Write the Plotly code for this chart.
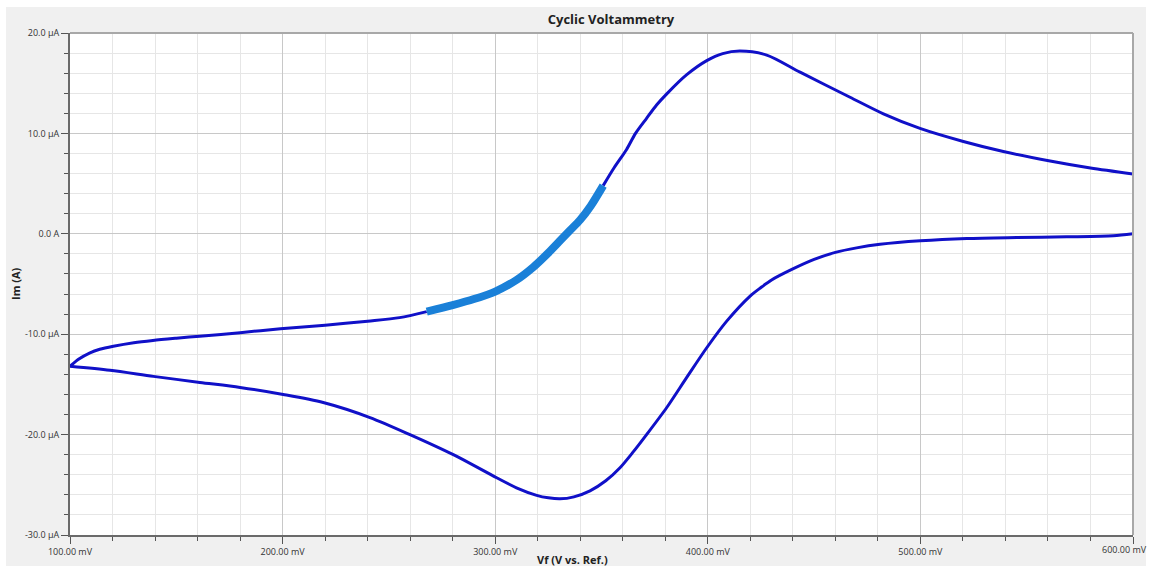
import plotly.graph_objects as go

# Forward (upper) branch: potential (mV) and current (µA)
fwd_v = [100.0, 104.0, 109.4, 114.0, 120.4, 130.0, 139.0, 150.0, 161.0, 180.0, 199.0,
         220.0, 240.0, 255.0, 267.8]
fwd_i = [-13.2, -12.5, -11.85, -11.5, -11.2, -10.85, -10.62, -10.4, -10.2, -9.85, -9.45,
         -9.1, -8.7, -8.35, -7.75]

# Highlighted segment on the forward branch
hl_v = [267.8, 280.0, 290.0, 300.0, 310.0, 318.0, 325.0, 330.0, 335.0, 340.0, 345.0, 350.8]
hl_i = [-7.75, -7.1, -6.5, -5.75, -4.6, -3.3, -1.9, -0.8, 0.3, 1.4, 2.8, 4.8]

# Rest of the forward branch
fwd2_v = [350.8, 356.0, 361.8, 366.0, 371.2, 376.0, 380.7, 390.1, 399.5, 407.0, 415.1,
          427.7, 443.4, 466.9, 482.6, 499.8, 520.2, 539.0, 561.0, 580.0, 600.0]
fwd2_i = [4.8, 6.6, 8.4, 10.0, 11.5, 12.85, 13.94, 15.85, 17.25, 17.95, 18.2,
          17.8, 16.1, 13.6, 11.95, 10.5, 9.2, 8.2, 7.25, 6.55, 5.96]

# Reverse (lower) branch
rev_v = [600.0, 590.7, 568.8, 545.3, 521.8, 500.0, 481.0, 470.0, 460.0, 450.0, 440.0, 430.0,
         425.0, 419.9, 408.9, 399.5, 390.1, 380.7, 371.2, 365.0, 358.7, 352.0, 344.6, 337.0,
         330.5, 325.0, 319.5, 310.0, 300.7, 280.3, 259.9, 241.1, 219.1, 200.3, 180.0,
         161.1, 139.2, 118.8, 100.0]
rev_i = [0.0, -0.2, -0.3, -0.37, -0.47, -0.7, -1.05, -1.4, -1.85, -2.55, -3.5, -4.6,
         -5.35, -6.2, -8.7, -11.35, -14.3, -17.3, -20.0, -21.7, -23.3, -24.6, -25.6, -26.2,
         -26.4, -26.3, -26.05, -25.3, -24.3, -22.0, -20.0, -18.3, -16.8, -16.0, -15.3,
         -14.8, -14.2, -13.6, -13.2]

x_ticks = [100, 200, 300, 400, 500, 600]
x_labels = ["100.00 mV", "200.00 mV", "300.00 mV", "400.00 mV", "500.00 mV", "600.00 mV"]
y_ticks = [-30, -20, -10, 0, 10, 20]
y_labels = ["-30.0 µA", "-20.0 µA", "-10.0 µA", "0.0 A", "10.0 µA", "20.0 µA"]

DARK = "#1010c8"
LIGHT = "#1a80d8"

fig = go.Figure()
for xs, ys in [(rev_v, rev_i), (fwd_v, fwd_i), (fwd2_v, fwd2_i)]:
    fig.add_trace(go.Scatter(x=xs, y=ys, mode="lines", hoverinfo="skip",
                             line=dict(color=DARK, width=3, shape="spline", smoothing=0.8)))
fig.add_trace(go.Scatter(x=hl_v, y=hl_i, mode="lines", hoverinfo="skip",
                         line=dict(color=LIGHT, width=8, shape="spline", smoothing=0.8)))

font_main = "Open Sans, DejaVu Sans, sans-serif"

# The last x label overflows the plot edge; plotly hides it, so place it as text
last_label = dict(text=x_labels[-1], xref="x", yref="paper", x=x_ticks[-1], y=0,
                  yshift=-14, xshift=-9, showarrow=False, xanchor="center", yanchor="middle",
                  font=dict(family=font_main, size=9, color="#333333"))
tick_text = x_labels[:-1] + [""]

fig.update_layout(
    width=1151, height=569,
    margin=dict(l=70, r=18, t=33, b=34, autoexpand=False),
    paper_bgcolor="white",
    plot_bgcolor="white",
    showlegend=False,
    font=dict(family=font_main, size=9, color="#333333"),
    title=dict(text="<b>Cyclic Voltammetry</b>", x=(611 / 1151), xanchor="center",
               y=1 - 19 / 569, yanchor="middle",
               font=dict(family=font_main, size=13, color="#222222")),
    shapes=[
        dict(type="rect", xref="paper", yref="paper", x0=-0.0602, x1=1.0122,
             y0=-0.0618, y1=1.0518, fillcolor="#f0f0f0", line=dict(width=0), layer="below"),
        dict(type="rect", xref="paper", yref="paper", x0=0, x1=1,
             y0=0, y1=1, fillcolor="white", line=dict(width=0), layer="below"),
        dict(type="line", xref="paper", yref="paper", x0=0, x1=1, y0=1, y1=1,
             line=dict(color="#a8a8a8", width=2)),
        dict(type="line", xref="paper", yref="paper", x0=1, x1=1, y0=0, y1=1,
             line=dict(color="#a8a8a8", width=2)),
    ],
    annotations=[
        dict(text="<b>Im (A)</b>", xref="paper", yref="paper", x=-55 / 1063, y=0.5,
             textangle=-90, showarrow=False, xanchor="center", yanchor="middle",
             font=dict(family=font_main, size=11, color="#222222")),
        dict(text="<b>Vf (V vs. Ref.)</b>", xref="paper", yref="paper", x=(572 - 70) / 1063,
             y=-24 / 502, showarrow=False, xanchor="center", yanchor="middle",
             font=dict(family=font_main, size=11, color="#222222")),
        last_label,
    ],
)

fig.update_xaxes(
    range=[100, 600], tickmode="array", tickvals=x_ticks, ticktext=tick_text,
    showgrid=True, gridcolor="#c8c8c8", gridwidth=1,
    ticks="outside", ticklen=7, tickcolor="#555555", tickwidth=1,
    showline=True, linecolor="#6a6a6a", linewidth=2,
    zeroline=False, automargin=False,
    minor=dict(dtick=20, tick0=100, showgrid=True, gridcolor="#e6e6e6", gridwidth=1,
               ticks="outside", ticklen=4, tickcolor="#555555"),
    tickfont=dict(size=9, color="#333333"),
)
fig.update_yaxes(
    range=[-30, 20], tickmode="array", tickvals=y_ticks, ticktext=y_labels,
    showgrid=True, gridcolor="#c8c8c8", gridwidth=1,
    ticks="outside", ticklen=7, tickcolor="#555555", tickwidth=1,
    showline=True, linecolor="#6a6a6a", linewidth=2,
    zeroline=False, automargin=False,
    minor=dict(dtick=2, tick0=0, showgrid=True, gridcolor="#e6e6e6", gridwidth=1,
               ticks="outside", ticklen=4, tickcolor="#555555"),
    tickfont=dict(size=9, color="#333333"),
)

fig.write_html("out.html", config={"displayModeBar": False},
               post_script="document.body.style.margin='0px';")
